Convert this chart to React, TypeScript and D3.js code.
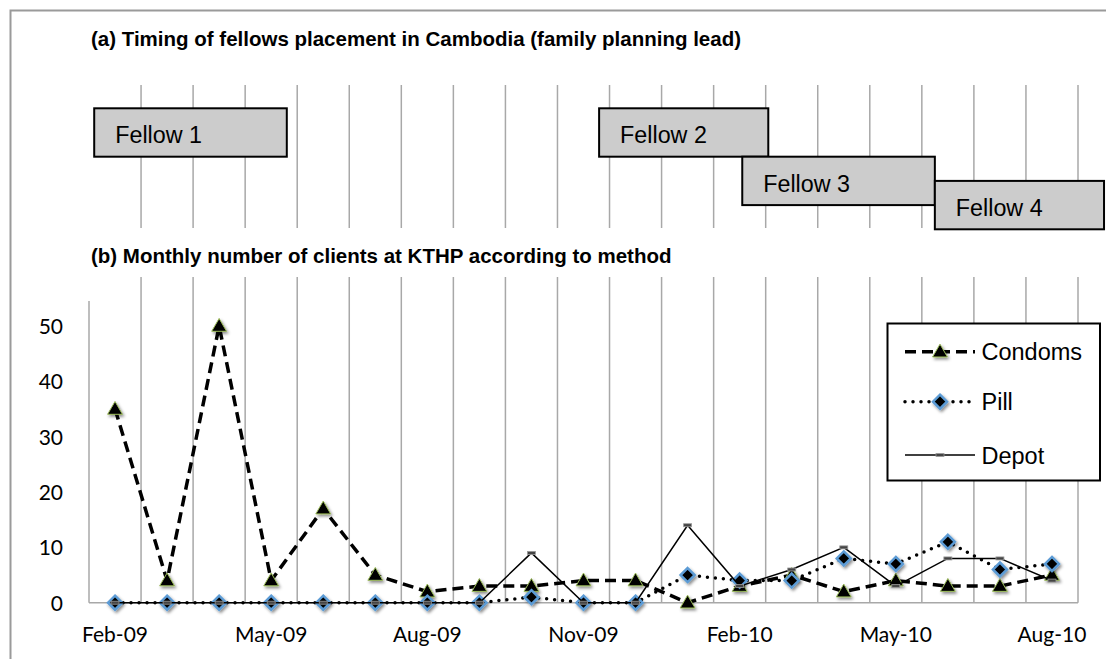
import * as React from "react";
import * as d3 from "d3";

const months = [
  "Feb-09", "Mar-09", "Apr-09", "May-09", "Jun-09", "Jul-09", "Aug-09", "Sep-09", "Oct-09", "Nov-09",
  "Dec-09", "Jan-10", "Feb-10", "Mar-10", "Apr-10", "May-10", "Jun-10", "Jul-10", "Aug-10",
];
const condoms = [35, 4, 50, 4, 17, 5, 2, 3, 3, 4, 4, 0, 3, 5, 2, 4, 3, 3, 5];
const pill = [0, 0, 0, 0, 0, 0, 0, 0, 1, 0, 0, 5, 4, 4, 8, 7, 11, 6, 7];
const depot = [0, 0, 0, 0, 0, 0, 0, 0, 9, 0, 0, 14, 3, 6, 10, 3, 8, 8, 4];
const yTicks = [0, 10, 20, 30, 40, 50];

// fellow placements, in months from start of Feb-09
const fellows = ["Fellow 1", "Fellow 2", "Fellow 3", "Fellow 4"];
const fellowStart = [0.1, 9.8, 12.55, 16.25];
const fellowEnd = [3.8, 13.05, 16.25, 19.5];
const fellowRow = [0, 0, 1, 1.5];

const W = 1106;
const H = 659;
const plotLeft = 89;
const plotRight = 1078;

const arial = "'Liberation Sans', Arial, sans-serif";
const calibri = "Lato, 'Open Sans', sans-serif";
const grid = "#a8a8a8";

export default function App() {
  const x = d3.scaleBand<string>().domain(months).range([plotLeft, plotRight]).paddingInner(0).paddingOuter(0);
  const bw = x.bandwidth();
  const cx = (i: number) => (x(months[i]) as number) + bw / 2;
  const xm = d3.scaleLinear().domain([0, months.length]).range([plotLeft, plotRight]);
  const y = d3.scaleLinear().domain([0, 50]).range([602.7, 326]);
  const row = d3.scaleLinear().domain([0, 1]).range([108.3, 156.7]);
  const rowH = row(1) - row(0);

  const line = d3.line<number>().x((_, i) => cx(i)).y((d) => y(d));

  const tri = d3.symbol(d3.symbolTriangle, 95)();
  const diamond = "M0,-7L7,0L0,7L-7,0Z";

  const boundaries = d3.range(1, months.length + 1);

  const condomMarker = (px: number, py: number, k: string) => (
    <path key={k} d={tri as string} transform={`translate(${px},${py + 1})`} fill="#000" stroke="#9bbb59" strokeWidth={1} filter="url(#sh)" />
  );
  const pillMarker = (px: number, py: number, k: string) => (
    <path key={k} d={diamond} transform={`translate(${px},${py})`} fill="#000" stroke="#5b9bd5" strokeWidth={2.5} filter="url(#sh)" />
  );
  const depotMarker = (px: number, py: number, k: string) => (
    <rect key={k} x={px - 4} y={py - 1.5} width={8} height={3} fill="#444" stroke="#999" strokeWidth={0.8} />
  );

  const legendItems = [
    { name: "Condoms", y: 351.7, dash: "11 6", width: 3.5, cap: "butt", marker: condomMarker },
    { name: "Pill", y: 401.7, dash: "0 8", width: 3.5, cap: "round", marker: pillMarker },
    { name: "Depot", y: 455, dash: "none", width: 1.5, cap: "butt", marker: depotMarker },
  ];

  return (
    <svg width={W} height={H} style={{ position: "absolute", left: 0, top: 0, background: "#fff" }}>
      <defs>
        <filter id="sh" x="-50%" y="-50%" width="200%" height="200%">
          <feDropShadow dx={1.5} dy={2} stdDeviation={1.5} floodColor="#000" floodOpacity={0.45} />
        </filter>
      </defs>
      <rect x={10.5} y={10.5} width={1200} height={800} fill="#fff" stroke="#9a9a9a" strokeWidth={2} />

      {/* (a) fellows timing */}
      <text x={91} y={46} fontFamily={arial} fontWeight="bold" fontSize={20.5}>
        (a) Timing of fellows placement in Cambodia (family planning lead)
      </text>
      {boundaries.map((k) => (
        <line key={"ga" + k} x1={xm(k)} x2={xm(k)} y1={85} y2={228} stroke={grid} strokeWidth={1.5} />
      ))}
      {fellows.map((f, i) => (
        <g key={f}>
          <rect x={xm(fellowStart[i])} y={row(fellowRow[i])} width={xm(fellowEnd[i]) - xm(fellowStart[i])} height={rowH}
            fill="#cccccc" stroke="#000" strokeWidth={2} />
          <text x={xm(fellowStart[i]) + 21} y={row(fellowRow[i]) + 35} fontFamily={arial} fontSize={23.3}>{f}</text>
        </g>
      ))}

      {/* (b) monthly clients */}
      <text x={91} y={262.5} fontFamily={arial} fontWeight="bold" fontSize={20.5}>
        (b) Monthly number of clients at KTHP according to method
      </text>
      {boundaries.map((k) => (
        <line key={"gb" + k} x1={xm(k)} x2={xm(k)} y1={277} y2={y(0)} stroke={grid} strokeWidth={1.5} />
      ))}
      <line x1={plotLeft} x2={plotLeft} y1={y(54.5)} y2={y(0)} stroke={grid} strokeWidth={1.5} />
      <line x1={plotLeft} x2={plotRight} y1={y(0)} y2={y(0)} stroke={grid} strokeWidth={1.5} />
      {yTicks.map((t) => (
        <text key={"yt" + t} x={63} y={y(t) + 8} textAnchor="end" fontFamily={calibri} fontSize={21}>{t}</text>
      ))}
      {months.map((m, i) => i % 3 === 0 ? (
        <text key={"xt" + m} x={cx(i)} y={641.5} textAnchor="middle" fontFamily={calibri} fontSize={21}>{m}</text>
      ) : null)}

      <path d={line(condoms) as string} fill="none" stroke="#000" strokeWidth={3.5} strokeDasharray="11 6" />
      {condoms.map((v, i) => condomMarker(cx(i), y(v), "c" + i))}
      <path d={line(pill) as string} fill="none" stroke="#000" strokeWidth={3.5} strokeDasharray="0 8" strokeLinecap="round" />
      {pill.map((v, i) => pillMarker(cx(i), y(v), "p" + i))}
      <path d={line(depot) as string} fill="none" stroke="#000" strokeWidth={1.5} />
      {depot.map((v, i) => depotMarker(cx(i), y(v), "d" + i))}

      {/* legend */}
      <rect x={887.5} y={323.5} width={212.5} height={157} fill="#fff" stroke="#000" strokeWidth={2} />
      {legendItems.map((it) => (
        <g key={it.name}>
          <line x1={905} x2={975} y1={it.y} y2={it.y} stroke="#000" strokeWidth={it.width}
            strokeDasharray={it.dash} strokeLinecap={it.cap as any} />
          {it.marker(940, it.y, "lm" + it.name)}
          <text x={981.5} y={it.y + 8.5} fontFamily={arial} fontSize={23.5}>{it.name}</text>
        </g>
      ))}
    </svg>
  );
}
